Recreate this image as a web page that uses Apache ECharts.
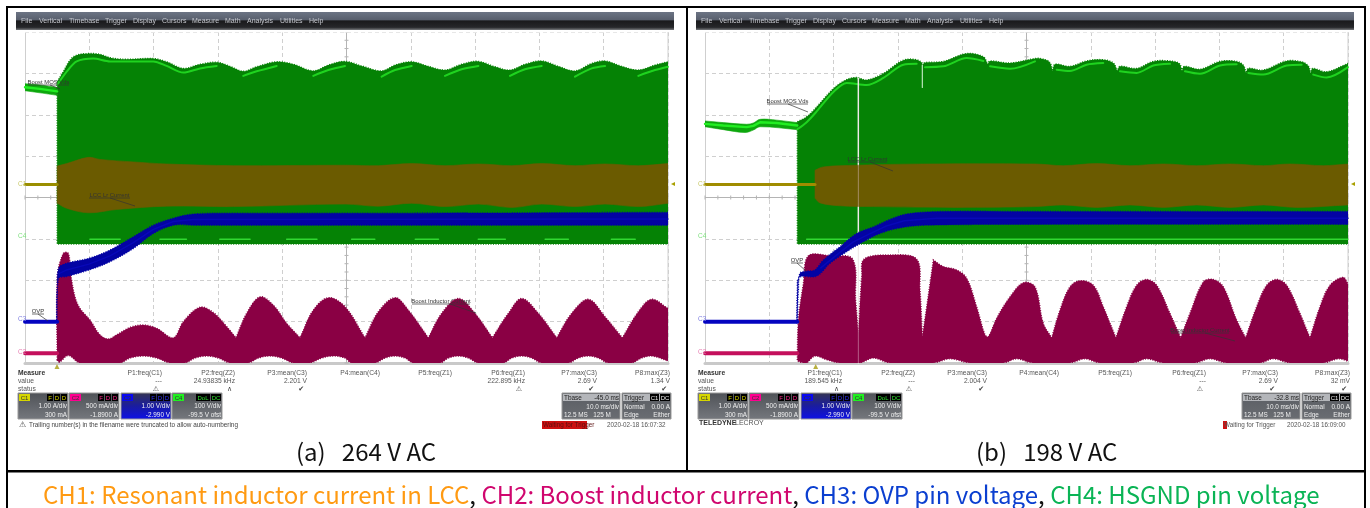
<!DOCTYPE html>
<html><head><meta charset="utf-8">
<style>html,body{margin:0;padding:0;background:#fff}#c{width:1370px;height:508px}</style>
<script src="https://cdn.jsdelivr.net/npm/echarts@6/dist/echarts.min.js"></script>
</head><body><div id="c"></div>
<script>
// Time in ms (10 ms/div), level in scope divisions above the bottom of the screen.
const a_ch4_pre_upper=[[0,6.75],[2.33,6.72],[5,6.66]];
const a_ch4_pre_lower=[[0,6.58],[2.33,6.53],[5,6.47]];
const a_ch4_upper=[[5,6.80],[5.96,7.04],[6.99,7.32],[8.03,7.44],[9.95,7.48],[11.66,7.46],[13.22,7.38],[15.81,7.34],[19.96,7.36],[22.03,7.28],[24.62,7.12],[27.21,7.22],[29.81,7.27],[31.88,7.17],[33.95,7.05],[36.03,7.16],[39.14,7.28],[41.73,7.22],[44.84,7.06],[47.17,7.20],[49.77,7.29],[52.36,7.18],[55.47,7.06],[57.55,7.20],[60.14,7.28],[62.73,7.17],[65.32,7.08],[67.91,7.22],[70.51,7.29],[73.10,7.16],[75.43,7.08],[77.76,7.22],[80.36,7.30],[82.95,7.17],[85.54,7.06],[88.13,7.24],[90.21,7.30],[92.80,7.17],[95.39,7.08],[97.98,7.20],[100,7.28]];
const a_ch4_lower=[[5,2.875],[100,2.875]];
const a_ch4_trace=[[5,6.72],[6.48,7.04],[8.03,7.29],[10.63,7.36],[13.22,7.29],[19.96,7.29],[22.03,7.18],[24.62,7.02],[27.21,7.12],[29.81,7.18],[31,null],[33.95,6.94],[36.03,7.05],[39.14,7.18],[40,null],[44.84,6.94],[47.17,7.08],[49.77,7.18],[51,null],[55.47,6.92],[57.55,7.08],[60.14,7.18],[61,null],[65.32,6.94],[67.91,7.10],[70.51,7.18],[71,null],[75.43,6.94],[77.76,7.10],[80.36,7.18],[81,null],[85.54,6.92],[88.13,7.12],[90.21,7.18],[91,null],[95.39,6.94],[97.98,7.08],[100,7.16]];
const a_ch4_glow=[[10.1,2.99],[14.8,2.99],[15,null],[21,2.99],[25.1,2.99],[26,null],[30.3,2.99],[35,2.99],[36,null],[40.7,2.99],[45.4,2.99],[46,null],[50.8,2.99],[54.4,2.99],[55,null],[60.7,2.99],[64.3,2.99],[65,null],[70.5,2.99],[74.7,2.99],[75,null],[80.9,2.99],[84.5,2.99],[85,null],[91.2,2.99],[94.9,2.99]];
const a_ch1_pre=[[0,4.315],[5,4.315]];
const a_ch1_upper=[[5,4.76],[6.48,4.82],[9.85,4.97],[11.66,4.92],[16.85,4.86],[22.03,4.81],[32.4,4.77],[49.77,4.78],[54.95,4.77],[60.14,4.82],[65.32,4.77],[70.5,4.81],[75.7,4.77],[80.36,4.82],[85.54,4.77],[90.2,4.81],[95.4,4.77],[100,4.82]];
const a_ch1_lower=[[5,3.86],[6.48,3.74],[9.85,3.63],[14.25,3.71],[22.03,3.79],[32.4,3.78],[49.77,3.84],[54.95,3.79],[60.14,3.86],[65.32,3.78],[70.5,3.84],[75.7,3.76],[80.36,3.84],[85.54,3.78],[90.2,3.84],[95.4,3.78],[100,3.86]];
const a_ch3_pre=[[0,1.0],[5,1.0]];
const a_ch3_upper=[[5.03,1.76],[5.23,2.29],[6.48,2.41],[9.95,2.53],[13.22,2.73],[16.85,3.05],[19.96,3.33],[23.07,3.50],[26.18,3.60],[32.4,3.62],[49.77,3.62],[100,3.64]];
const a_ch3_lower=[[4.92,0.96],[5.23,2.04],[6.48,2.09],[9.95,2.25],[13.22,2.45],[16.85,2.77],[19.96,3.13],[23.07,3.33],[26.18,3.33],[49.77,3.33],[100,3.33]];
const a_ch3_center=[[5.3,2.16],[6.48,2.25],[9.95,2.39],[13.22,2.59],[16.85,2.91],[19.96,3.23],[23.07,3.42],[26.18,3.47],[100,3.48]];
const a_ch2_pre=[[0,0.234],[5,0.234]];
const a_ch2_upper=[[5,0.07],[5.03,2.09],[5.96,2.65],[6.74,2.65],[7.10,2.17],[7.77,1.60],[8.55,1.32],[10.11,1.04],[11.66,0.68],[12.96,0.58],[14.25,0.68],[16.33,0.86],[18.40,0.92],[20.48,0.84],[23.07,0.61],[24.62,1.0],[27.21,1.35],[29.29,1.22],[31.36,0.88],[32.81,0.61],[34.47,1.20],[36.55,1.60],[38.62,1.40],[40.69,0.96],[42.77,0.61],[44.84,1.28],[47.17,1.58],[49.77,1.36],[52.88,0.61],[54.95,1.24],[57.55,1.58],[59.62,1.28],[62.73,0.61],[64.8,1.20],[67.4,1.56],[69.99,1.20],[72.68,0.61],[75.17,1.20],[77.25,1.56],[79.84,1.20],[82.69,0.61],[85.02,1.20],[87.61,1.54],[90.2,1.12],[92.9,0.61],[95.39,1.24],[97.46,1.54],[100,1.32]];
const a_ch2_lower=[[5,0.07],[5.34,0.02],[6.74,0.18],[8.55,0],[14.77,0],[16.33,0.12],[18.4,0.17],[20.48,0.12],[22.55,0],[24.88,0],[26.44,0.12],[28.25,0.17],[30.07,0.12],[31.88,0],[34.73,0],[36.29,0.12],[38.1,0.17],[39.91,0.12],[41.73,0],[44.32,0],[46.14,0.12],[47.95,0.17],[49.77,0.12],[50.8,0],[54.44,0],[55.99,0.12],[57.55,0.17],[59.1,0.12],[60.4,0],[64.54,0],[65.84,0.12],[67.4,0.17],[68.95,0.12],[70.5,0],[74.4,0],[75.7,0.12],[77.25,0.17],[78.8,0.12],[80.36,0],[84.5,0],[86.06,0.12],[87.61,0.17],[89.17,0.12],[90.72,0],[94.35,0],[95.9,0.12],[97.46,0.17],[100,0.05]];

const b_ch4_pre_upper=[[0,5.85],[2.85,5.81],[6.48,5.77],[7.52,5.80],[8.56,5.89],[11.15,5.87],[14.36,5.81]];
const b_ch4_pre_lower=[[0,5.71],[2.85,5.64],[6.22,5.57],[7.52,5.63],[8.56,5.71],[14.36,5.64]];
const b_ch4_upper=[[14.36,5.83],[15.81,5.95],[17.37,6.19],[19.96,6.63],[22.03,6.85],[23.59,6.90],[25.15,6.84],[27.74,7.0],[30.85,7.32],[32.92,7.33],[33.7,7.26],[33.8,7.20],[34.22,7.26],[37.07,7.29],[40.7,7.48],[43.29,7.40],[43.96,7.22],[44.33,7.30],[47.44,7.25],[51.32,7.36],[52.1,7.36],[53.55,7.28],[54.07,7.06],[54.43,7.22],[56.76,7.17],[59.35,7.30],[61.94,7.33],[63.5,7.25],[64.12,7.06],[64.54,7.17],[67.13,7.12],[69.72,7.29],[72.31,7.30],[73.76,7.24],[74.18,7.06],[74.54,7.17],[76.98,7.10],[80.09,7.29],[82.68,7.29],[83.72,7.20],[84.13,7.01],[84.5,7.12],[86.83,7.08],[90.46,7.30],[92.79,7.28],[93.83,7.18],[94.19,7.0],[94.5,7.12],[96.68,7.04],[100,7.24]];
const b_ch4_lower=[[14.36,2.875],[100,2.875]];
const b_ch4_trace=[[14.36,5.65],[15.81,5.82],[17.37,6.08],[19.96,6.55],[22.03,6.77],[25.15,6.72],[27.74,6.89],[30.85,7.21],[32.92,7.23],[33.5,null],[34.22,7.15],[37.07,7.17],[40.7,7.37],[43.29,7.30],[43.8,null],[44.33,7.17],[47.44,7.11],[51.32,7.29],[53,null],[54.69,7.09],[56.76,7.06],[59.35,7.21],[61.94,7.25],[63,null],[64.54,7.05],[67.13,7.01],[69.72,7.19],[72.31,7.23],[73,null],[74.65,7.05],[76.98,6.99],[80.09,7.19],[82.68,7.22],[83,null],[84.5,7.01],[86.83,6.97],[90.46,7.19],[92.79,7.21],[93,null],[94.6,6.97],[96.68,6.90],[100,7.15]];
const b_ch4_glow=[[15.81,2.99],[100,2.99]];
const b_gap_main=[[23.85,6.88],[23.85,0]];
const b_gap_second=[[33.8,7.2],[33.8,6.66]];
const b_ch1_pre=[[0,4.315],[17.11,4.315]];
const b_ch1_upper=[[17.11,4.66],[18.41,4.74],[23.59,4.78],[33.96,4.81],[51.32,4.81],[55.72,4.77],[60.91,4.82],[66.09,4.77],[71.28,4.81],[76.46,4.77],[81.64,4.81],[86.83,4.77],[90.98,4.81],[96.16,4.77],[100,4.81]];
const b_ch1_lower=[[17.11,3.98],[17.89,3.87],[21,3.80],[26.18,3.78],[39.14,3.76],[51.32,3.78],[55.72,3.82],[60.91,3.76],[66.09,3.82],[71.28,3.76],[76.46,3.82],[81.64,3.76],[86.83,3.82],[92.01,3.76],[100,3.82]];
const b_ch3_pre=[[0,1.0],[14.36,1.0]];
const b_ch3_upper=[[14.36,1.04],[14.52,1.76],[14.78,2.17],[15.81,2.22],[17.11,2.25],[18.41,2.49],[21,2.81],[23.59,3.13],[26.18,3.29],[28.77,3.47],[31.37,3.60],[36.55,3.66],[51.32,3.66],[100,3.66]];
const b_ch3_lower=[[14.26,0.96],[14.36,1.76],[14.67,2.07],[17.37,2.10],[19.44,2.41],[22.03,2.69],[24.63,2.93],[27.22,3.13],[29.81,3.25],[33.96,3.33],[51.32,3.35],[100,3.35]];
const b_ch3_center=[[18,2.3],[20.4,2.6],[23,2.92],[25.6,3.12],[28.2,3.31],[31,3.44],[36,3.5],[100,3.5]];
const b_ch2_pre=[[0,0.234],[14.36,0.234]];
const b_ch2_upper=[[14.36,0.07],[14.52,1.04],[15.3,1.92],[16.07,2.59],[19.44,2.59],[22.97,2.51],[23.43,1.52],[23.85,0.72],[24.37,2.09],[24.73,2.51],[28.77,2.61],[32.92,2.51],[33.44,1.76],[33.8,0.64],[34.48,1.36],[35.51,2.49],[37.07,2.33],[39.14,2.25],[40.7,2.05],[42.25,1.36],[43.55,0.68],[44.07,0.64],[45.36,1.08],[47.44,1.60],[49.51,1.94],[51.32,1.84],[52.61,0.96],[53.91,0.61],[55.21,1.28],[56.76,1.84],[58.32,1.99],[60.39,1.88],[61.94,1.36],[63.91,0.61],[65.57,1.36],[67.13,1.88],[68.68,2.02],[70.24,1.88],[72.31,1.20],[73.97,0.61],[75.42,1.20],[77.5,1.96],[79.05,2.02],[80.61,1.84],[82.68,1.04],[84.08,0.61],[85.79,1.36],[87.35,1.88],[88.9,2.02],[90.46,1.88],[92.53,1.20],[94.09,0.61],[95.64,1.36],[97.2,1.88],[99.27,2.07],[100,1.91]];
const b_ch2_lower=[[14.36,0.07],[14.52,0.04],[15.3,0],[15.81,0],[17.11,0.17],[18.92,0.08],[21,0],[24.11,0],[26.18,0.12],[28.77,0],[35.51,0],[38.1,0.1],[41.22,0],[46.4,0],[48.47,0.1],[51,0],[56.76,0],[59.09,0.1],[61.43,0],[66.61,0],[68.68,0.1],[71.28,0],[76.2,0],[78.53,0.1],[81.13,0],[86.31,0],[88.38,0.1],[90.98,0],[96.16,0],[98.49,0.1],[100,0.05]];

const menuItems=['File','Vertical','Timebase','Trigger','Display','Cursors','Measure','Math','Analysis','Utilities','Help'];
const menuX=[21,39,69,105,133,162,192,225,247,280,309];
const measureTitles=['P1:freq(C1)','P2:freq(Z2)','P3:mean(C3)','P4:mean(C4)','P5:freq(Z1)','P6:freq(Z1)','P7:max(C3)','P8:max(Z3)'];
const a_values=['---','24.93835 kHz','2.201 V','','','222.895 kHz','2.69 V','1.34 V'];
const a_status=['⚠','∧','✔','','','⚠','✔','✔'];
const b_values=['189.545 kHz','---','2.004 V','','','---','2.69 V','32 mV'];
const b_status=['∧','⚠','✔','','','⚠','✔','✔'];
const a_measureX=[162,235,307,380,452,525,597,670];
const b_measureX=[842,915,987,1059,1132,1206,1278,1350];

const left=[25,705], W=643, top0=32, H=331;
const OLIVE='#6b5b00', GREEN='#058205', CRIM='#8a0044', BLUE='#0303a3';

// keep hard corners by doubling a vertex, so the spline through the rest stays round
function sharpen(points,n1){
  const out=[], n=points.length;
  points.forEach((p,k)=>{
    const a=points[(k-1+n)%n], b=points[(k+1)%n];
    const ux=p[0]-a[0],uy=p[1]-a[1],vx=b[0]-p[0],vy=b[1]-p[1];
    const turn=Math.abs(Math.atan2(ux*vy-uy*vx,ux*vx+uy*vy));
    out.push(p);
    if(turn>1.65||k===0||k===n1-1||k===n1||k===n-1) out.push(p);
  });
  return out;
}
function band(i,upper,lower,color,z,fuzz){
  const pts=upper.concat(lower.slice().reverse()), n1=upper.length;
  return {type:'custom',xAxisIndex:i,yAxisIndex:i,coordinateSystem:'cartesian2d',data:pts,encode:{x:0,y:1},z,silent:true,clip:true,
    renderItem:(p,api)=>{ if(p.dataIndex!==0) return;
      return {type:'polygon',shape:{points:sharpen(pts.map(d=>api.coord(d)),n1),smooth:0.35},
        style:fuzz?{fill:color,stroke:color,lineWidth:1.4,lineDash:[1,1.5]}:{fill:color,stroke:color,lineWidth:0.6}}; }};
}
function trace(i,data,color,width,z,opacity,smooth){
  return {type:'line',xAxisIndex:i,yAxisIndex:i,data,z,symbol:'none',smooth:smooth||false,silent:true,clip:true,connectNulls:false,
    lineStyle:{color,width,opacity:opacity==null?1:opacity,cap:'round'}};
}
const xTickVals=Array.from({length:51},(_,k)=>k*2);
const yTickVals=Array.from({length:41},(_,k)=>k*0.2);
function centerLines(i){
  return [
   {type:'line',xAxisIndex:i,yAxisIndex:i,data:xTickVals.map(t=>[t,4]),z:1,symbol:'rect',symbolSize:[1,4],showSymbol:true,showAllSymbol:true,silent:true,lineStyle:{color:'#b4b4b4',width:1},itemStyle:{color:'#b4b4b4'}},
   {type:'line',xAxisIndex:i,yAxisIndex:i,data:yTickVals.map(v=>[50,v]),z:1,symbol:'rect',symbolSize:[4,1],showSymbol:true,showAllSymbol:true,silent:true,lineStyle:{color:'#b4b4b4',width:1},itemStyle:{color:'#b4b4b4'}}
  ];
}
const series=[
 ...centerLines(0),...centerLines(1),
 band(0,a_ch4_pre_upper,a_ch4_pre_lower,'#0da70d',3),
 trace(0,a_ch4_pre_upper.map((d,k)=>[d[0],(d[1]+a_ch4_pre_lower[k][1])/2]),'#22ee22',2.4,4),
 band(0,a_ch4_upper,a_ch4_lower,GREEN,3,true),
 trace(0,a_ch4_trace,'#24e224',2,4,0.85,0.3),
 trace(0,a_ch4_glow,'#3cf03c',1.6,4,0.8),
 band(0,a_ch1_upper,a_ch1_lower,OLIVE,5),
 trace(0,a_ch1_pre,'#9a8e00',3,5),
 band(0,a_ch2_upper,a_ch2_lower,CRIM,6,true),
 trace(0,a_ch2_pre,'#c4105c',4,6),
 band(0,a_ch3_upper,a_ch3_lower,BLUE,7,true),
 trace(0,a_ch3_center,'#0808b8',1.5,8),
 trace(0,a_ch3_pre,'#0404c0',4,7),

 band(1,b_ch4_pre_upper,b_ch4_pre_lower,'#0da70d',3),
 trace(1,b_ch4_pre_upper.map(d=>[d[0],d[1]-0.07]),'#22ee22',2.4,4),
 band(1,b_ch4_upper,b_ch4_lower,GREEN,3,true),
 trace(1,b_ch4_trace,'#24e224',2,4,0.85,0.3),
 trace(1,b_ch4_glow,'#3cf03c',1.6,4,0.8),
 trace(1,b_gap_main,'#f4fff4',1.4,4.5),
 trace(1,b_gap_second,'#e8ffe8',1.2,4.5,0.8),
 band(1,b_ch1_upper,b_ch1_lower,OLIVE,5),
 trace(1,b_ch1_pre,'#a08c00',3,5),
 band(1,b_ch2_upper,b_ch2_lower,CRIM,6,true),
 trace(1,b_ch2_pre,'#c4105c',4,6),
 trace(1,b_gap_main,'#e8c8d8',1,6.5,0.45),
 band(1,b_ch3_upper,b_ch3_lower,BLUE,7,true),
 trace(1,b_ch3_center,'#0808b8',1.5,8),
 trace(1,b_ch3_pre,'#0404c0',4,7)
];

const SMALL="'Liberation Sans',Arial,sans-serif";
const g=[];
function rect(x,y,w,h,fill,z,stroke){g.push({type:'rect',shape:{x,y,width:w,height:h},style:{fill,stroke:stroke||null,lineWidth:stroke?1:0},z:z||20,silent:true});}
function txt(x,y,s,o){o=o||{};g.push({type:'text',x,y,z:o.z||30,silent:true,style:{text:s,font:(o.bold?'bold ':'')+(o.size||6.7)+'px '+(o.family||SMALL),fill:o.color||'#555',textAlign:o.align||'left',textVerticalAlign:'middle'}});}
function seg(x1,y1,x2,y2,color,w,z){g.push({type:'line',shape:{x1,y1,x2,y2},style:{stroke:color,lineWidth:w||1},z:z||25,silent:true});}
function tri(pts,fill){g.push({type:'polygon',shape:{points:pts},style:{fill},z:25,silent:true});}
const vgrad=(stops)=>({type:'linear',x:0,y:0,x2:0,y2:1,colorStops:stops.map(s=>({offset:s[0],color:s[1]}))});

function note(x1,x2,y,s,lx1,ly1,lx2,ly2){
  txt((x1+x2)/2,y-3,s,{align:'center',size:5.9,color:'#333'});
  seg(x1,y,x2,y,'#333',0.7);
  seg(lx1,ly1,lx2,ly2,'#333',0.7);
}
function chanBox(x,tag,tagColor,tagText,l1,l2,flags,isBlue){
  const y=393,w=50,h=26;
  rect(x,y,w,h,isBlue?vgrad([[0,'#35354f'],[0.5,'#1a1ca0'],[1,'#0c10e8']]):vgrad([[0,'#4f5257'],[1,'#75787e']]),20,'#9a9a9a');
  rect(x+1,y+1,11,7,tagColor,21);
  txt(x+6.5,y+5,tag,{align:'center',size:6,color:'#333'});
  let rx=x+49;
  flags.slice().reverse().forEach(f=>{ const fw=f.length*4+2; rect(rx-fw,y+1,fw,7,'#000',21); txt(rx-fw/2,y+5,f,{align:'center',size:6,color:tagText}); rx-=fw+1; });
  txt(x+w-1,y+13,l1,{align:'right',color:'#f0f0f0',size:6.4});
  txt(x+w-1,y+22,l2,{align:'right',color:'#f0f0f0',size:6.4});
}
function timeBoxes(tx,trx,tb){
  const y=393;
  rect(tx,y,58,26,vgrad([[0,'#5a5d63'],[1,'#6a6d72']]),20,'#999');
  rect(tx+1,y+1,56,7,'#b4b6ba',21);
  txt(tx+2,y+5,'Tbase',{size:6.4,color:'#222'});
  txt(tx+57,y+5,tb,{align:'right',size:6.4,color:'#222'});
  txt(tx+57,y+14,'10.0 ms/div',{align:'right',color:'#eee',size:6.4});
  txt(tx+2,y+22,'12.5 MS   125 M',{color:'#eee',size:6.4});
  rect(trx,y,49,26,vgrad([[0,'#5a5d63'],[1,'#6a6d72']]),20,'#999');
  rect(trx+1,y+1,47,7,'#b4b6ba',21);
  txt(trx+2,y+5,'Trigger',{size:6.4,color:'#222'});
  rect(trx+28,y+1,9,7,'#000',22); rect(trx+38,y+1,10,7,'#000',22);
  txt(trx+32.5,y+5,'C1',{align:'center',size:6,color:'#eee'});
  txt(trx+43,y+5,'DC',{align:'center',size:6,color:'#eee'});
  txt(trx+2,y+14,'Normal',{color:'#eee',size:6.4}); txt(trx+48,y+14,'0.00 A',{align:'right',color:'#eee',size:6.4});
  txt(trx+2,y+22,'Edge',{color:'#eee',size:6.4}); txt(trx+48,y+22,'Either',{align:'right',color:'#eee',size:6.4});
}
function panelChrome(dx,measX,vals,stats){
  rect(16+dx,12,658,18,vgrad([[0,'#6c7484'],[0.42,'#59606e'],[0.5,'#1a1a1c'],[0.85,'#26272a'],[1,'#77797c']]));
  rect(24+dx,31,646,1.6,'#fff',2);
  seg(668+dx,32,668+dx,363,'#d0d0d0',1,2);
  menuItems.forEach((m,k)=>txt(menuX[k]+dx,21,m,{color:'#c4c6cc',size:7}));
  txt(18+dx,184,'C1',{size:6.5,color:'#c9c96a'});
  txt(18+dx,236,'C4',{size:6.5,color:'#7fe07f'});
  txt(18+dx,319,'C3',{size:6.5,color:'#7f7fe0'});
  txt(18+dx,352,'C2',{size:6.5,color:'#e880b4'});
  txt(18+dx,373,'Measure',{bold:true,color:'#333'});
  txt(18+dx,381,'value'); txt(18+dx,389,'status');
  measureTitles.forEach((t,k)=>{
    txt(measX[k],373,t,{align:'right'});
    if(vals[k]) txt(measX[k],381,vals[k],{align:'right'});
    if(stats[k]) txt(measX[k]-3,389,stats[k],{align:'right',color:'#444',size:7,family:"'DejaVu Sans',sans-serif"});
  });
  tri([[671+dx,184],[675+dx,182],[675+dx,186]],'#a8a000');
}
// frame lines
rect(6,6,1360,2,'#000',40); rect(6,6,2,502,'#000',40); rect(1364,6,2,502,'#000',40);
rect(686,6,2,466,'#000',40); rect(6,470,1360,2.5,'#000',40);

panelChrome(0,a_measureX,a_values,a_status);
panelChrome(680,b_measureX,b_values,b_status);
tri([[57,364],[54.5,369],[59.5,369]],'#b8b040');
tri([[815.7,364],[813.2,369],[818.2,369]],'#b8b040');

chanBox(18,'C1','#d6d600','#d8d800','1.00 A/div','300 mA',['F','D','D']);
chanBox(69,'C2','#ff0090','#ff2a90','500 mA/div','-1.8900 A',['F','D','D']);
chanBox(121,'C3','#0808f0','#3030ff','1.00 V/div','-2.990 V',['F','D','D'],true);
chanBox(172,'C4','#20f020','#30e030','100 V/div','-99.5 V ofst',['DoL','DC']);
chanBox(698,'C1','#d6d600','#d8d800','1.00 A/div','300 mA',['F','D','D']);
chanBox(749,'C2','#ff0090','#ff2a90','500 mA/div','-1.8900 A',['F','D','D']);
chanBox(801,'C3','#0808f0','#3030ff','1.00 V/div','-2.990 V',['F','D','D'],true);
chanBox(852,'C4','#20f020','#30e030','100 V/div','-99.5 V ofst',['DoL','DC']);
timeBoxes(562,622,'-45.0 ms');
timeBoxes(1242,1302,'-32.8 ms');

txt(19,425,'⚠',{family:"'DejaVu Sans',sans-serif",size:8,color:'#444'});
txt(29,425,'Trailing number(s) in the filename were truncated to allow auto-numbering',{size:6.4,color:'#444'});
txt(699,423,'TELEDYNE',{bold:true,size:7,color:'#333'});
txt(735,423,'LECROY',{size:7,color:'#555'});
rect(542,421,45,8,'#cc1010',21);
txt(543,425,'Waiting for Trigger',{size:6.3,color:'#5a1010'});
txt(607,425,'2020-02-18 16:07:32',{size:6.3});
rect(1223,421,4,8,'#cc1010',21);
txt(1224,425,'Waiting for Trigger',{size:6.3});
txt(1287,425,'2020-02-18 16:09:00',{size:6.3});

note(28,69,85,'Boost MOS Vds',50,85,60,89);
note(89,130,198,'LCC Lr Current',110,198,135,206);
note(32,44,314,'OVP',38,314,48,321);
note(412,470,304,'Boost Inductor Current',450,304,476,313);
note(767,808,104,'Boost MOS Vds',788,104,808,112);
note(848,887,162,'LCC Lr Current',870,162,893,171);
note(791,803,263,'OVP',797,263,806,271);
note(1171,1229,333,'Boost Inductor Current',1205,333,1235,341);

const BIG="'Noto Sans CJK SC','Noto Sans',sans-serif";
txt(296,452,'(a)   264 V AC',{size:24,family:BIG,color:'#111'});
txt(976,452,'(b)   198 V AC',{size:24,family:BIG,color:'#111'});
g.push({type:'text',x:43,y:495,z:30,silent:true,style:{
  text:'{o|CH1: Resonant inductor current in LCC}{k|, }{m|CH2: Boost inductor current}{k|, }{b|CH3: OVP pin voltage}{k|, }{g|CH4: HSGND pin voltage}',
  font:'24px '+BIG,textVerticalAlign:'middle',
  rich:{o:{fill:'#ff9a12',font:'24px '+BIG},k:{fill:'#111',font:'24px '+BIG},m:{fill:'#d0066e',font:'24px '+BIG},b:{fill:'#0b3fd0',font:'24px '+BIG},g:{fill:'#0ab455',font:'24px '+BIG}}
}});

const axisPair=(i)=>({
  x:{type:'value',gridIndex:i,min:0,max:100,interval:10,axisLabel:{show:false},axisTick:{show:false},axisLine:{show:true,onZero:false,lineStyle:{color:'#c9c9c9',width:3}},splitLine:{show:true,lineStyle:{color:'#cfcfcf',type:[4,3],width:1}}},
  y:{type:'value',gridIndex:i,min:0,max:8,interval:1,axisLabel:{show:false},axisTick:{show:false},axisLine:{show:true,onZero:false,lineStyle:{color:'#cfcfcf',width:1}},splitLine:{show:true,lineStyle:{color:'#cfcfcf',type:[4,3],width:1}}}
});
const ax=[axisPair(0),axisPair(1)];
const chart=echarts.init(document.getElementById('c'),null,{renderer:'canvas'});
chart.setOption({
  animation:false,backgroundColor:'#fff',tooltip:{show:false},legend:{show:false},
  grid:left.map(l=>({left:l,top:top0,width:W,height:H,show:false})),
  xAxis:ax.map(a=>a.x),yAxis:ax.map(a=>a.y),series,graphic:{elements:g}
});
</script></body></html>
